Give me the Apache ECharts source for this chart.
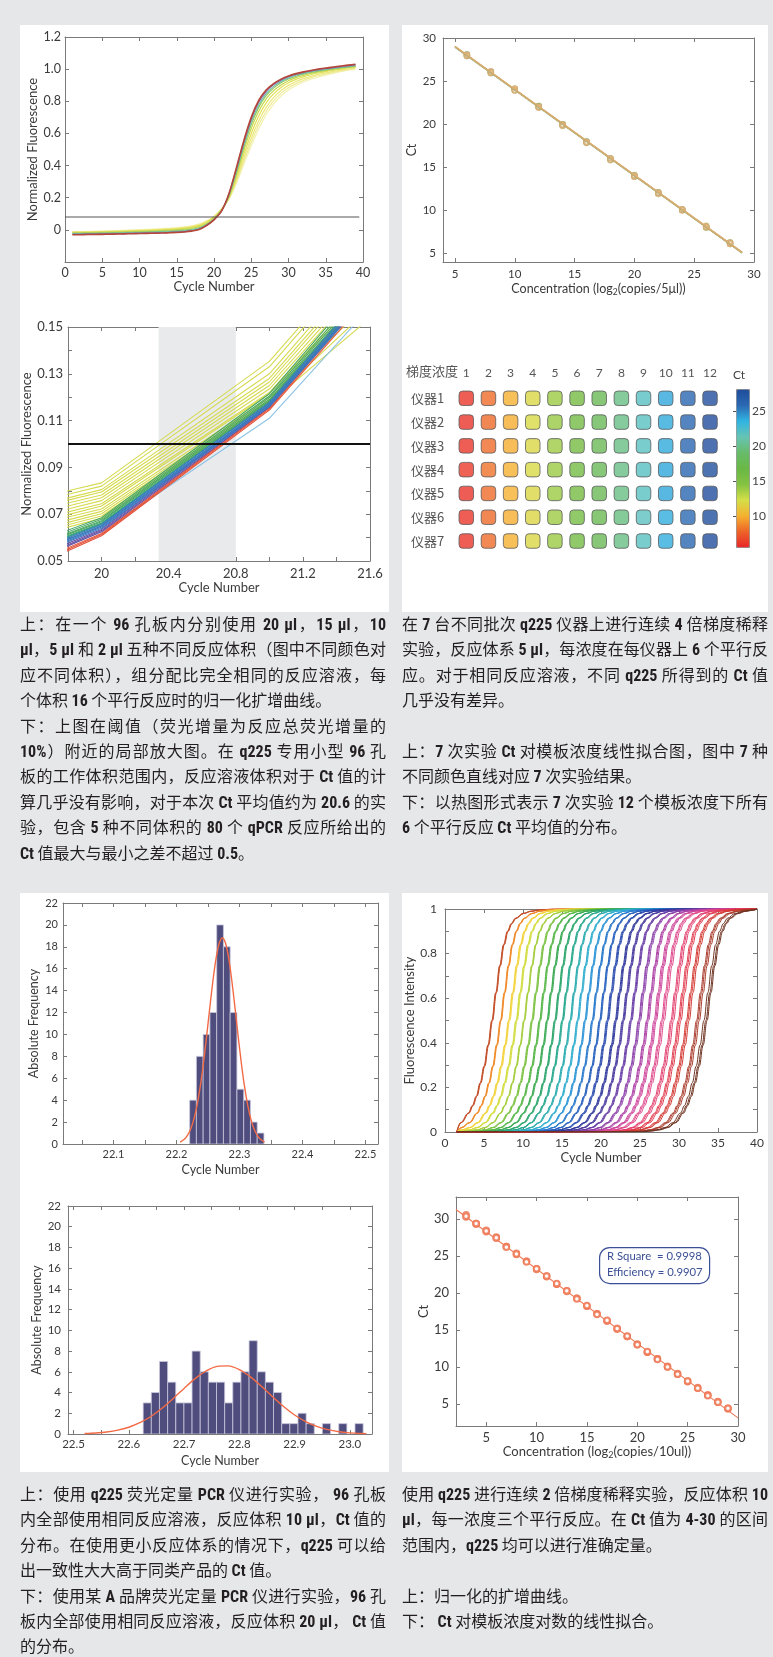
<!DOCTYPE html>
<html><head><meta charset="utf-8">
<script src="https://cdn.jsdelivr.net/npm/echarts@6/dist/echarts.min.js"></script>
<style>
html,body{margin:0;padding:0;background:#e6e7e8;}
#wrap{position:relative;width:773px;height:1657px;overflow:hidden;background:#e6e7e8;}
.panel{position:absolute;background:#fff;}
#chart{position:absolute;left:0;top:0;width:773px;height:1657px;}
.cap{position:absolute;width:366px;font-family:"Noto Sans CJK SC","Noto Sans",sans-serif;font-size:16px;line-height:25.4px;color:#231f20;}
.cap div{white-space:nowrap;height:25.4px;}
.cap .j{text-align:justify;text-align-last:justify;}
.cap b{font-weight:700;font-family:"Liberation Sans Narrow","Roboto Condensed",Lato,sans-serif;}
</style></head>
<body>
<div id="wrap">
  <div class="panel" style="left:20px;top:25px;width:369px;height:587px"></div>
  <div class="panel" style="left:402px;top:25px;width:366px;height:587px"></div>
  <div class="panel" style="left:20px;top:893px;width:369px;height:579px"></div>
  <div class="panel" style="left:402px;top:893px;width:366px;height:579px"></div>
  <div id="chart"></div>
  <div class="cap" style="left:20px;top:611px">
    <div class="j">上：在一个 <b>96</b> 孔板内分别使用 <b>20 μl</b>，<b>15 μl</b>，<b>10</b></div>
    <div class="j"><b>μl</b>，<b>5 μl</b> 和 <b>2 μl</b> 五种不同反应体积（图中不同颜色对</div>
    <div class="j">应不同体积），组分配比完全相同的反应溶液，每</div>
    <div>个体积 <b>16</b> 个平行反应时的归一化扩增曲线。</div>
    <div class="j">下：上图在阈值（荧光增量为反应总荧光增量的</div>
    <div class="j"><b>10%</b>）附近的局部放大图。在 <b>q225</b> 专用小型 <b>96</b> 孔</div>
    <div class="j">板的工作体积范围内，反应溶液体积对于 <b>Ct</b> 值的计</div>
    <div class="j">算几乎没有影响，对于本次 <b>Ct</b> 平均值约为 <b>20.6</b> 的实</div>
    <div class="j">验，包含 <b>5</b> 种不同体积的 <b>80</b> 个 <b>qPCR</b> 反应所给出的</div>
    <div><b>Ct</b> 值最大与最小之差不超过 <b>0.5</b>。</div>
  </div>
  <div class="cap" style="left:402px;top:611px">
    <div class="j">在 <b>7</b> 台不同批次 <b>q225</b> 仪器上进行连续 <b>4</b> 倍梯度稀释</div>
    <div class="j">实验，反应体系 <b>5 μl</b>，每浓度在每仪器上 <b>6</b> 个平行反</div>
    <div class="j">应。对于相同反应溶液，不同 <b>q225</b> 所得到的 <b>Ct</b> 值</div>
    <div>几乎没有差异。</div>
    <div></div>
    <div class="j">上：<b>7</b> 次实验 <b>Ct</b> 对模板浓度线性拟合图，图中 <b>7</b> 种</div>
    <div>不同颜色直线对应 <b>7</b> 次实验结果。</div>
    <div class="j">下：以热图形式表示 <b>7</b> 次实验 <b>12</b> 个模板浓度下所有</div>
    <div><b>6</b> 个平行反应 <b>Ct</b> 平均值的分布。</div>
  </div>
  <div class="cap" style="left:20px;top:1481px">
    <div class="j">上：使用 <b>q225</b> 荧光定量 <b>PCR</b> 仪进行实验， <b>96</b> 孔板</div>
    <div class="j">内全部使用相同反应溶液，反应体积 <b>10 μl</b>，<b>Ct</b> 值的</div>
    <div class="j">分布。在使用更小反应体系的情况下，<b>q225</b> 可以给</div>
    <div>出一致性大大高于同类产品的 <b>Ct</b> 值。</div>
    <div class="j">下：使用某 <b>A</b> 品牌荧光定量 <b>PCR</b> 仪进行实验，<b>96</b> 孔</div>
    <div class="j">板内全部使用相同反应溶液，反应体积 <b>20 μl</b>， <b>Ct</b> 值</div>
    <div>的分布。</div>
  </div>
  <div class="cap" style="left:402px;top:1481px">
    <div class="j">使用 <b>q225</b> 进行连续 <b>2</b> 倍梯度稀释实验，反应体积 <b>10</b></div>
    <div class="j"><b>μl</b>，每一浓度三个平行反应。在 <b>Ct</b> 值为 <b>4-30</b> 的区间</div>
    <div>范围内，<b>q225</b> 均可以进行准确定量。</div>
    <div></div>
    <div>上：归一化的扩增曲线。</div>
    <div>下： <b>Ct</b> 对模板浓度对数的线性拟合。</div>
  </div>
</div>
<script>
// ================= DATA =================
// Chart 1: normalized amplification curves (cycles 1..39)
const cycles1 = [1,2,3,4,5,6,7,8,9,10,11,12,13,14,15,16,17,18,19,20,21,22,23,24,25,26,27,28,29,30,31,32,33,34,35,36,37,38,39];
const ampRed = [-0.030,-0.030,-0.029,-0.029,-0.028,-0.027,-0.026,-0.025,-0.024,-0.023,-0.022,-0.021,-0.020,-0.018,-0.016,-0.013,-0.008,0.002,0.026,0.062,0.116,0.225,0.385,0.555,0.700,0.805,0.870,0.910,0.938,0.958,0.972,0.983,0.992,1.000,1.007,1.013,1.019,1.025,1.030];
const ampPurple = [-0.028,-0.028,-0.027,-0.027,-0.026,-0.025,-0.024,-0.023,-0.022,-0.021,-0.020,-0.019,-0.018,-0.016,-0.014,-0.011,-0.006,0.004,0.028,0.064,0.118,0.222,0.378,0.545,0.690,0.795,0.862,0.904,0.933,0.954,0.969,0.980,0.989,0.997,1.004,1.010,1.016,1.021,1.026];
const ampTeal = [-0.024,-0.024,-0.023,-0.023,-0.022,-0.021,-0.020,-0.019,-0.018,-0.017,-0.016,-0.014,-0.013,-0.011,-0.009,-0.006,-0.001,0.009,0.031,0.066,0.117,0.215,0.365,0.528,0.672,0.778,0.848,0.893,0.924,0.946,0.962,0.974,0.984,0.992,0.999,1.005,1.011,1.016,1.021];
const ampGreen = [-0.021,-0.021,-0.020,-0.020,-0.019,-0.018,-0.017,-0.016,-0.015,-0.014,-0.012,-0.011,-0.009,-0.007,-0.005,-0.002,0.003,0.013,0.034,0.068,0.117,0.210,0.355,0.515,0.655,0.762,0.835,0.882,0.915,0.939,0.956,0.969,0.979,0.988,0.996,1.003,1.009,1.014,1.019];
const ampLime = [-0.018,-0.018,-0.017,-0.016,-0.015,-0.014,-0.013,-0.012,-0.011,-0.009,-0.008,-0.006,-0.004,-0.002,0.001,0.004,0.010,0.020,0.040,0.073,0.121,0.205,0.340,0.495,0.630,0.738,0.815,0.866,0.902,0.928,0.947,0.961,0.973,0.983,0.991,0.998,1.005,1.011,1.017];
const ampYellow = [-0.016,-0.015,-0.015,-0.014,-0.013,-0.012,-0.011,-0.009,-0.008,-0.006,-0.005,-0.003,-0.001,0.002,0.005,0.009,0.015,0.026,0.046,0.078,0.125,0.200,0.325,0.470,0.600,0.708,0.790,0.846,0.886,0.915,0.936,0.952,0.965,0.976,0.985,0.993,1.000,1.007,1.013];
const ampYellow2 = [-0.014,-0.013,-0.013,-0.012,-0.011,-0.010,-0.008,-0.007,-0.005,-0.004,-0.002,0.000,0.002,0.005,0.008,0.012,0.019,0.030,0.050,0.080,0.128,0.196,0.310,0.445,0.570,0.678,0.762,0.823,0.867,0.899,0.923,0.941,0.955,0.967,0.977,0.986,0.994,1.001,1.008];
const ampYellow3 = [-0.013,-0.012,-0.011,-0.010,-0.009,-0.008,-0.006,-0.005,-0.003,-0.001,0.001,0.003,0.005,0.008,0.011,0.015,0.022,0.033,0.053,0.082,0.130,0.192,0.298,0.425,0.545,0.652,0.738,0.802,0.849,0.884,0.910,0.930,0.946,0.959,0.970,0.980,0.989,0.997,1.005];
const ampYellow4 = [-0.012,-0.011,-0.010,-0.009,-0.008,-0.006,-0.005,-0.003,-0.001,0.001,0.003,0.005,0.008,0.010,0.014,0.018,0.025,0.036,0.056,0.084,0.132,0.190,0.288,0.408,0.522,0.628,0.716,0.783,0.833,0.870,0.898,0.920,0.937,0.951,0.963,0.974,0.984,0.993,1.001];
const threshold1X = [0, 39.5];
const threshold1Y = [0.08, 0.08];
const ticks1X = [0,5,10,15,20,25,30,35,40];
const ticks1Y = [-0.2,0,0.2,0.4,0.6,0.8,1.0,1.2];
const labels1Y = [0,0.2,0.4,0.6,0.8,1.0,1.2];

// Chart 2: zoom near threshold, values at cycles 19,20,21,22
const zoomCycles = [19,20,21,22];
const zoomYellow = [
  [0.0664,0.0834,0.1353,0.217],[0.0645,0.0820,0.1330,0.215],[0.0630,0.0805,0.1300,0.212],
  [0.0620,0.0795,0.1280,0.210],[0.0612,0.0782,0.1265,0.208],[0.0595,0.0770,0.1250,0.205],
  [0.0578,0.0758,0.1235,0.203],[0.0570,0.0745,0.1220,0.200],[0.0550,0.0735,0.1215,0.198],
  [0.0552,0.0722,0.1200,0.196],[0.0532,0.0712,0.1190,0.194],[0.0517,0.0702,0.1185,0.190],
  [0.0507,0.0692,0.1180,0.185],[0.0493,0.0683,0.1175,0.178]];
const zoomGreen = [[0.042,0.0685,0.1215,0.205],[0.041,0.0678,0.1205,0.203],[0.040,0.0672,0.1198,0.201],
  [0.0395,0.0668,0.1190,0.200],[0.039,0.0662,0.1185,0.199],[0.0385,0.0658,0.1180,0.198]];
const zoomTeal = [[0.038,0.0660,0.1175,0.200],[0.0365,0.0650,0.1168,0.198]];
const zoomBlue = [[0.037,0.0655,0.1178,0.200],[0.036,0.0650,0.1170,0.198],[0.0355,0.0645,0.1165,0.197],[0.035,0.0640,0.1160,0.196]];
const zoomPurple = [[0.034,0.0635,0.1170,0.202],[0.033,0.0630,0.1165,0.200],[0.032,0.0625,0.1158,0.198]];
const zoomRed = [[0.031,0.0618,0.1155,0.200],[0.030,0.0613,0.1150,0.198],[0.029,0.0608,0.1145,0.196]];
const zoomLightBlue = [[0.033,0.0625,0.1110,0.190]];
const zoomBand = [20.34, 20.8];
const threshold2X = [19.8, 21.6];
const threshold2Y = [0.1, 0.1];
const ticks2X = [19.8,20,20.2,20.4,20.6,20.8,21,21.2,21.4,21.6];
const labels2X = [20,20.4,20.8,21.2,21.6];
const ticks2Y = [0.05,0.06,0.07,0.08,0.09,0.10,0.11,0.12,0.13,0.14,0.15];
const labels2Y = [0.05,0.07,0.09,0.11,0.13,0.15];

// Chart 3 + heatmap: 7 instruments, 12 gradient concentrations (Ct means)
const concLog2 = [28,26,24,22,20,18,16,14,12,10,8,6];
const ctInst1 = [6.2,8.1,10.1,12.0,14.0,15.9,17.9,19.9,22.1,24.1,26.0,28.0];
const ctInst2 = [6.1,8.0,10.0,12.1,14.1,16.0,18.0,20.0,22.0,24.0,26.1,28.1];
const ctInst3 = [6.2,8.1,10.0,12.0,13.9,15.9,17.9,19.9,22.0,24.0,26.1,28.0];
const ctInst4 = [6.3,8.2,10.1,12.1,14.0,16.0,18.0,20.0,22.1,24.1,26.0,27.9];
const ctInst5 = [6.1,8.1,10.1,12.0,14.0,15.9,17.9,19.9,22.0,24.1,26.0,28.0];
const ctInst6 = [6.2,8.0,10.0,11.9,13.9,15.8,17.8,19.8,21.9,23.9,25.9,27.9];
const ctInst7 = [6.2,8.1,10.1,12.0,14.0,16.0,17.9,19.9,22.0,23.9,26.0,28.0];
const fitX3 = [5, 29];
const fitY3 = [[28.92,5.05],[29.02,5.10],[29.00,5.15],[28.95,5.08],[29.05,5.12],[29.00,5.10],[29.00,5.10]];
const ticks3 = [5,10,15,20,25,30];
const gradientLabels = ['1','2','3','4','5','6','7','8','9','10','11','12'];
const instrumentLabels = ['仪器1','仪器2','仪器3','仪器4','仪器5','仪器6','仪器7'];
const colorbarTicks = [10,15,20,25];

// Chart 5: q225 Ct histogram
const hist1Centers = [22.2264,22.2371,22.2478,22.2586,22.2693,22.2800,22.2907,22.3015,22.3122,22.3229,22.3336];
const hist1Counts = [4,8,10,12,20,18,12,5,4,2,1];
const hist1BinWidth = 0.0107;
const fit1X = [22.206,22.213,22.218,22.223,22.228,22.233,22.238,22.243,22.248,22.253,22.258,22.263,22.268,22.273,22.278,22.283,22.288,22.293,22.298,22.303,22.308,22.313,22.318,22.323,22.328,22.333,22.340];
const fit1Y = [0.18,0.46,0.83,1.42,2.32,3.60,5.30,7.42,9.86,12.44,14.90,16.96,18.32,18.80,18.32,16.96,14.90,12.44,9.86,7.42,5.30,3.60,2.32,1.42,0.83,0.46,0.18];
const ticks5X = [22.05,22.1,22.15,22.2,22.25,22.3,22.35,22.4,22.45,22.5];
const labels5X = [22.1,22.2,22.3,22.4,22.5];
const ticksFreq = [0,2,4,6,8,10,12,14,16,18,20,22];

// Chart 6: brand A Ct histogram
const hist2Centers = [22.6334,22.6481,22.6629,22.6776,22.6924,22.7071,22.7218,22.7366,22.7513,22.7661,22.7808,22.7955,22.8103,22.8250,22.8398,22.8545,22.8692,22.8840,22.8987,22.9135,22.9282,22.9429,22.9577,22.9724,22.9872,23.0019,23.0166];
const hist2Counts = [3,4,7,5,3,3,8,6,5,5,3,5,6,9,6,5,4,1,1,2,1,0,1,0,1,0,1];
const hist2BinWidth = 0.01474;
const fit2X = [22.52,22.54,22.56,22.58,22.60,22.62,22.64,22.66,22.68,22.70,22.72,22.74,22.76,22.78,22.80,22.82,22.84,22.86,22.88,22.90,22.92,22.94,22.96,22.98,23.00,23.02,23.03];
const fit2Y = [0.046,0.098,0.197,0.37,0.655,1.086,1.69,2.48,3.41,4.40,5.34,6.09,6.53,6.57,6.21,5.51,4.60,3.60,2.65,1.83,1.19,0.73,0.42,0.22,0.11,0.054,0.036];
const ticks6X = [22.5,22.55,22.6,22.65,22.7,22.75,22.8,22.85,22.9,22.95,23.0];
const labels6X = [22.5,22.6,22.7,22.8,22.9,23.0];

// Chart 7: 2-fold dilution amplification curves (shape, positioned by mid-cycle)
const curveShapeDx = [-8,-7,-6,-5,-4,-3,-2.5,-2,-1.5,-1,-0.5,0,0.5,1,1.5,2,2.5,3,4,5,6,7,8];
const curveShapeY  = [0.002,0.005,0.010,0.020,0.042,0.085,0.118,0.160,0.220,0.295,0.390,0.500,0.625,0.745,0.840,0.900,0.935,0.958,0.980,0.990,0.995,0.998,1.000];
const curveStartX = 1.5;
const curveEndX = 40;
const curveMids = [[6.0,6.05,6.1],[7.1,7.15,7.2],[8.15,8.2,8.3],[9.1,9.15,9.25],[10.1,10.15,10.2],[11.1,11.2,11.25],
  [12.1,12.15,12.25],[13.05,13.1,13.2],[14.05,14.1,14.2],[15.0,15.05,15.15],[16.0,16.05,16.15],[16.95,17.0,17.1],
  [17.9,17.95,18.05],[18.85,18.9,19.0],[19.8,19.85,19.95],[20.75,20.85,20.95],[21.8,21.9,22.0],[22.75,22.85,22.95],
  [23.75,23.85,23.95],[24.8,24.9,25.05],[25.85,25.95,26.1],[26.8,26.95,27.1],[27.75,27.9,28.1],[28.95,29.1,29.3],
  [29.9,30.05,30.25],[30.95,31.1,31.3],[32.25,32.4,32.6],[33.2,33.45,33.6]];
const curveColors = ['#c4502c','#ef8a2a','#f3d23c','#d2dc3e','#a6ce3f','#7cc243','#58b749','#3cab54','#2da66c','#29a98e',
  '#2eadb0','#33aecf','#2e96d6','#2b7bcc','#2862be','#2a4bae','#30399c','#493a9f','#683ca6','#8a3fa8',
  '#ac40a5','#cc4299','#de4689','#e23f6e','#e03a4c','#d2362f','#a83a2a','#6e3220'];
const ticks7X = [0,5,10,15,20,25,30,35,40];
const ticks7Y = [0,0.1,0.2,0.3,0.4,0.5,0.6,0.7,0.8,0.9,1];
const labels7Y = [0,0.2,0.4,0.6,0.8,1];

// Chart 8: Ct vs log2 concentration (3 replicates)
const conc8 = [3,4,5,6,7,8,9,10,11,12,13,14,15,16,17,18,19,20,21,22,23,24,25,26,27,28,29];
const ct8 = [[30.3,30.6,30.4],[29.4,29.3,29.4],[28.3,28.5,28.4],[27.4,27.6,27.5],[26.3,26.3,26.2],[25.2,25.4,25.3],
  [24.3,24.3,24.2],[23.3,23.2,23.3],[22.3,22.2,22.3],[21.2,21.2,21.3],[20.3,20.2,20.3],[19.3,19.3,19.2],
  [18.2,18.2,18.3],[17.2,17.2,17.1],[16.2,16.2,16.3],[15.2,15.1,15.2],[14.1,14.1,14.2],[13.0,13.1,13.0],
  [12.0,12.0,12.1],[11.1,11.1,11.0],[10.0,10.1,10.0],[9.0,9.1,9.0],[8.1,8.0,8.1],[7.1,7.2,7.1],
  [6.2,6.2,6.1],[5.2,5.3,5.2],[4.4,4.3,4.4]];
const fit8X = [2, 30];
const fit8Y = [31.3, 3.1];
const ticks8 = [5,10,15,20,25,30];

// ================= CHART =================
const FONT = 'Lato, "Open Sans", sans-serif';
const CJK = '"Noto Sans CJK SC", sans-serif';
const AXC = '#7a7a7a';
const TXT = '#3a3a3a';
const grids = [], xAxes = [], yAxes = [], series = [];

function addGrid(l, t, r, b) {
  grids.push({left:l, top:t, width:r-l, height:b-t, containLabel:false, outerBoundsMode:'none'});
  return grids.length - 1;
}
function axisCfg(dim, gi, A, main) {
  return {
    type:'value', gridIndex:gi, min:A.min, max:A.max,
    position: dim === 'x' ? (main ? 'bottom' : 'top') : (main ? 'left' : 'right'),
    axisLine:{show:true, onZero:false, lineStyle:{color:AXC, width:1}},
    axisTick:{show:true, inside:true, length:4, customValues:A.ticks, lineStyle:{color:AXC}},
    axisLabel: main ? {show:true, customValues:A.labels, formatter:A.fmt, margin:A.margin, color:TXT, fontSize:A.fs, fontFamily:FONT} : {show:false},
    splitLine:{show:false},
    name: main ? A.name : '', nameLocation:'middle', nameGap:A.gap,
    nameTextStyle: Object.assign({color:TXT, fontSize:A.nfs || 13, fontFamily:FONT}, A.nts || {}),
    silent:true
  };
}
function addBox(gi, X, Y) {
  const xi = xAxes.length, yi = yAxes.length;
  xAxes.push(axisCfg('x', gi, X, true)); xAxes.push(axisCfg('x', gi, X, false));
  yAxes.push(axisCfg('y', gi, Y, true)); yAxes.push(axisCfg('y', gi, Y, false));
  return {xi, yi};
}
function line(ax, data, color, width, extra) {
  return Object.assign({type:'line', xAxisIndex:ax.xi, yAxisIndex:ax.yi, data, showSymbol:false, symbol:'none',
    silent:true, lineStyle:{color, width}}, extra || {});
}
function hist(ax, centers, counts, w) {
  return {type:'custom', xAxisIndex:ax.xi, yAxisIndex:ax.yi, clip:true, silent:true,
    data: centers.map((c, i) => [c, counts[i]]), encode:{x:0, y:1},
    renderItem(p, api) {
      const c = api.value(0), n = api.value(1);
      if (!n) return {type:'group', children:[]};
      const tl = api.coord([c - w/2, n]), br = api.coord([c + w/2, 0]);
      return {type:'rect', shape:{x:tl[0], y:tl[1], width:br[0]-tl[0], height:br[1]-tl[1]},
        style:{fill:'#4f4d7e', stroke:'#c9c8dc', lineWidth:0.8}};
    }};
}
const fmt1 = v => v.toFixed(1);
const subName = (pre, post) => '{a|' + pre + '}{s|2}{a|' + post + '}';
const subRich = fs => ({rich:{a:{fontSize:fs, fontFamily:FONT, color:TXT, lineHeight:16},
  s:{fontSize:fs-4, fontFamily:FONT, color:TXT, lineHeight:8, verticalAlign:'bottom'}}});

// ---- Chart 1
const g1 = addGrid(65, 37, 363, 262);
const ax1 = addBox(g1,
  {min:0, max:40, ticks:ticks1X, labels:ticks1X, margin:4, fs:12.5, name:'Cycle Number', gap:18},
  {min:-0.2, max:1.2, ticks:ticks1Y, labels:labels1Y, fmt:v => v === 0 ? '0' : v.toFixed(1), margin:4, fs:12.5, name:'Normalized Fluorescence', gap:23});
[[ampYellow4,'#f3f1b2'],[ampYellow3,'#efec98'],[ampYellow2,'#ebe77c'],[ampYellow,'#e3e055'],[ampLime,'#c5d84e'],
 [ampGreen,'#96c95e'],[ampTeal,'#6cbcb0'],[ampPurple,'#8a5a9a'],[ampRed,'#b5473a']].forEach(([arr, c], k) => {
  series.push(line(ax1, cycles1.map((x, i) => [x, arr[i]]), c, k === 8 ? 1.6 : 1.2, {smooth:0.3}));
});
series.push(line(ax1, threshold1X.map((x, i) => [x, threshold1Y[i]]), '#555555', 1));

// ---- Chart 2
const g2 = addGrid(68, 327, 370, 561);
const ax2 = addBox(g2,
  {min:19.8, max:21.6, ticks:ticks2X, labels:labels2X, margin:6, fs:13, name:'Cycle Number', gap:19},
  {min:0.05, max:0.15, ticks:ticks2Y, labels:labels2Y, fmt:v => v.toFixed(2), margin:5, fs:13, name:'Normalized Fluorescence', gap:30});
series.push({type:'custom', xAxisIndex:ax2.xi, yAxisIndex:ax2.yi, silent:true, z:1,
  data:[[zoomBand[0], zoomBand[1]]], encode:{x:[0,1]},
  renderItem(p, api) {
    const a = api.coord([api.value(0), 0.1]), b = api.coord([api.value(1), 0.1]);
    return {type:'rect', shape:{x:a[0], y:p.coordSys.y, width:b[0]-a[0], height:p.coordSys.height}, style:{fill:'#e8eaec'}};
  }});
[[zoomYellow,'#d6da50'],[zoomLightBlue,'#8cc3e6'],[zoomRed,'#e4533a'],[zoomPurple,'#6a52a3'],
 [zoomGreen,'#4aa865'],[zoomTeal,'#2f9f95'],[zoomBlue,'#3d79c2']].forEach(([group, c]) => {
  group.forEach(vals => series.push(line(ax2, zoomCycles.map((x, i) => [x, vals[i]]), c, 1.1, {z:2})));
});
series.push(line(ax2, threshold2X.map((x, i) => [x, threshold2Y[i]]), '#111111', 2, {z:3}));

// ---- Chart 3
const g3 = addGrid(443, 38, 754, 262);
const ax3 = addBox(g3,
  {min:4, max:30, ticks:ticks3, labels:ticks3, margin:6, fs:11.5, name:subName('Concentration (log','(copies/5μl))'), gap:19, nts:subRich(12.5)},
  {min:4, max:30, ticks:ticks3, labels:ticks3, margin:7, fs:11.5, name:'Ct', gap:20, nfs:12.5});
const instArrays = [ctInst1, ctInst2, ctInst3, ctInst4, ctInst5, ctInst6, ctInst7];
const instColors = ['#7d9f68','#94ad72','#e8a37a','#b8b070','#f0b070','#c9b27a','#d4ad72'];
instArrays.forEach((arr, k) => {
  series.push({type:'scatter', xAxisIndex:ax3.xi, yAxisIndex:ax3.yi, silent:true, symbol:'emptyCircle', symbolSize:4.5,
    data: concLog2.map((x, i) => [x, arr[i]]), itemStyle:{color:instColors[k], borderColor:instColors[k], borderWidth:0.9}});
});
instArrays.forEach((arr, k) => {
  series.push(line(ax3, fitX3.map((x, i) => [x, fitY3[k][i]]), instColors[k], 1.2));
});

// ---- Heatmap
const g4 = addGrid(455.2, 386.4, 721.1, 552.9);
const hxi = xAxes.length, hyi = yAxes.length;
xAxes.push({type:'category', gridIndex:g4, data:gradientLabels, position:'top', axisLine:{show:false}, axisTick:{show:false},
  axisLabel:{margin:7, color:'#555', fontSize:12, fontFamily:FONT}, splitLine:{show:false}, silent:true});
yAxes.push({type:'category', gridIndex:g4, data:instrumentLabels, inverse:true, axisLine:{show:false}, axisTick:{show:false},
  axisLabel:{margin:11, color:'#555', fontSize:13, fontFamily:CJK}, splitLine:{show:false}, silent:true});
const heatData = [];
instArrays.forEach((row, r) => row.forEach((v, c) => heatData.push([c, r, v])));
const heatIdx = series.length;
series.push({type:'scatter', xAxisIndex:hxi, yAxisIndex:hyi, silent:true, symbol:'roundRect', symbolSize:14.5,
  data:heatData, itemStyle:{borderColor:'#5a5b5d', borderWidth:1}});
// colorbar axis
const g5c = addGrid(736, 389, 749, 547);
xAxes.push({type:'value', gridIndex:g5c, min:0, max:1, show:false});
yAxes.push({type:'value', gridIndex:g5c, min:5.6, max:28.2, position:'right',
  axisLine:{show:false}, axisTick:{show:true, inside:true, length:3, customValues:colorbarTicks, lineStyle:{color:'#555'}},
  axisLabel:{customValues:colorbarTicks, margin:3, color:'#444', fontSize:12, fontFamily:FONT}, splitLine:{show:false}, silent:true});

// ---- Chart 5
const g6 = addGrid(63, 903, 378, 1144);
const ax5 = addBox(g6,
  {min:22.02, max:22.52, ticks:ticks5X, labels:labels5X, fmt:fmt1, margin:5, fs:11, name:'Cycle Number', gap:19, nfs:12.5},
  {min:0, max:22, ticks:ticksFreq, labels:ticksFreq, margin:5, fs:11, name:'Absolute Frequency', gap:23, nfs:12.5});
series.push(hist(ax5, hist1Centers, hist1Counts, hist1BinWidth));
series.push(line(ax5, fit1X.map((x, i) => [x, fit1Y[i]]), '#f26a45', 1.4, {smooth:0.3, z:3}));

// ---- Chart 6
const g7 = addGrid(68, 1206, 372, 1434);
const ax6 = addBox(g7,
  {min:22.49, max:23.04, ticks:ticks6X, labels:labels6X, fmt:fmt1, margin:4, fs:11.5, name:'Cycle Number', gap:20, nfs:12.5},
  {min:0, max:22, ticks:ticksFreq, labels:ticksFreq, margin:7, fs:11.5, name:'Absolute Frequency', gap:24, nfs:12.5});
series.push(hist(ax6, hist2Centers, hist2Counts, hist2BinWidth));
series.push(line(ax6, fit2X.map((x, i) => [x, fit2Y[i]]), '#f26a45', 1.4, {smooth:0.3, z:3}));

// ---- Chart 7
const g8 = addGrid(445, 909, 757, 1132);
const ax7 = addBox(g8,
  {min:0, max:40, ticks:ticks7X, labels:ticks7X, margin:5, fs:12, name:'Cycle Number', gap:19},
  {min:0, max:1, ticks:ticks7Y, labels:labels7Y, margin:8, fs:12, name:'Fluorescence Intensity', gap:22});
curveMids.forEach((trip, gi) => trip.forEach(mid => {
  const pts = [[curveStartX, 0]];
  curveShapeDx.forEach((dx, k) => { const x = mid + dx; if (x > curveStartX && x < curveEndX) pts.push([x, curveShapeY[k]]); });
  pts.push([curveEndX, curveShapeY[curveShapeY.length - 1]]);
  series.push(line(ax7, pts, curveColors[gi], 1, {smooth:0.4, smoothMonotone:'x'}));
}));

// ---- Chart 8
const g9 = addGrid(456, 1197, 738, 1426);
const ax8 = addBox(g9,
  {min:2, max:30, ticks:ticks8, labels:ticks8, margin:5, fs:13, name:subName('Concentration (log','(copies/10ul))'), gap:18, nts:subRich(13)},
  {min:2, max:33, ticks:ticks8, labels:ticks8, margin:7, fs:13, name:'Ct', gap:20});
series.push(line(ax8, fit8X.map((x, i) => [x, fit8Y[i]]), '#f07a55', 1.1));
const pts8 = [];
conc8.forEach((x, i) => ct8[i].forEach(v => pts8.push([x, v])));
series.push({type:'scatter', xAxisIndex:ax8.xi, yAxisIndex:ax8.yi, silent:true, symbol:'emptyCircle', symbolSize:5.5,
  data:pts8, itemStyle:{color:'#ee7a58', borderColor:'#ee7a58', borderWidth:0.8, opacity:0.85}, z:3});

const option = {
  animation:false,
  backgroundColor:'transparent',
  grid:grids, xAxis:xAxes, yAxis:yAxes, series,
  visualMap:[{type:'continuous', min:5.6, max:28.2, dimension:2, seriesIndex:heatIdx,
    inRange:{color:['#e8262a','#ee6428','#f5b130','#d4df48','#84c242','#69b845','#68bb6a','#66c4b4','#30b4e2','#2b68b2','#1f4c9b']},
    orient:'vertical', left:736, top:389, itemWidth:13, itemHeight:158, padding:0, calculable:false,
    borderColor:'#8a8a8a', borderWidth:1, hoverLink:false}],
  graphic:{elements:[
    {type:'text', left:406, top:365, style:{text:'梯度浓度', fill:'#555', font:'13px ' + CJK}},
    {type:'text', left:733, top:369, style:{text:'Ct', fill:'#444', font:'12px ' + FONT}},
    {type:'rect', left:599, top:1247, shape:{width:110, height:36, r:10}, style:{fill:'#fff', stroke:'#3b4f96', lineWidth:1.2}, z:10},
    {type:'text', left:607, top:1251, style:{text:'R Square  = 0.9998', fill:'#3b4f96', font:'11.3px ' + FONT}, z:11},
    {type:'text', left:607, top:1267, style:{text:'Efficiency = 0.9907', fill:'#3b4f96', font:'11.3px ' + FONT}, z:11}
  ]}
};
const chart = echarts.init(document.getElementById('chart'), null, {renderer:'canvas', width:773, height:1657});
chart.setOption(option);
</script>
</body></html>
